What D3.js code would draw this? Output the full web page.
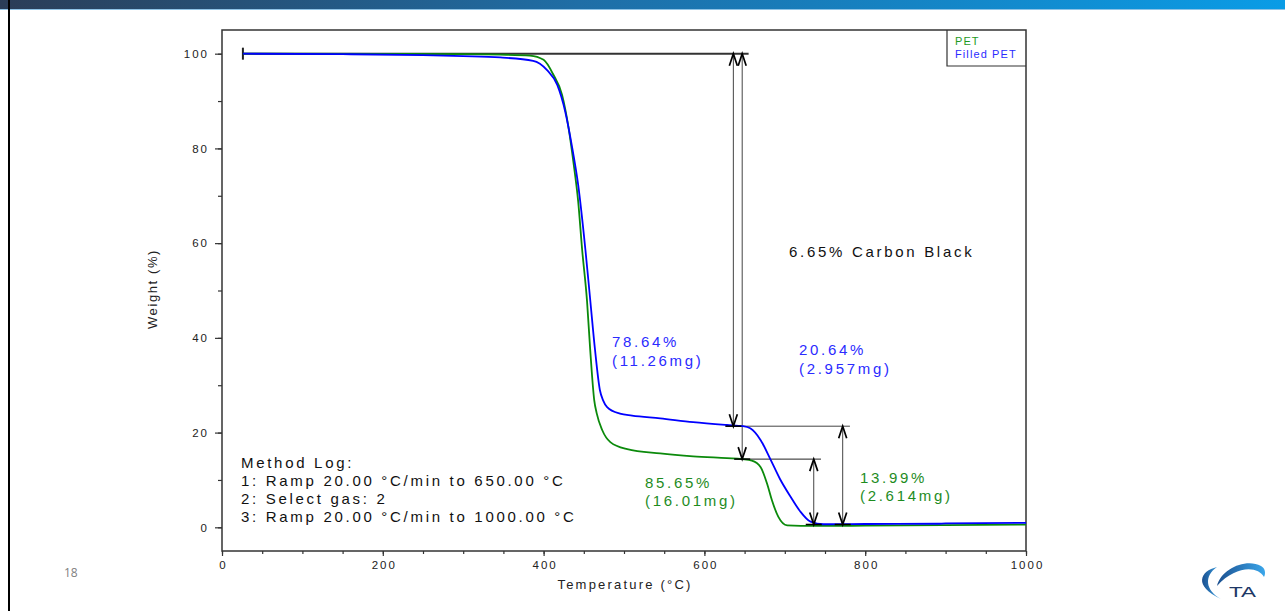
<!DOCTYPE html>
<html>
<head>
<meta charset="utf-8">
<script src="https://cdn.jsdelivr.net/npm/d3@7"></script>
<style>
    body { margin: 0; background: #fff; }
    svg { display: block; }
    .tick text { font-family: Arial, "Liberation Sans", sans-serif; }
</style>
</head>
<body>
<div class="chart-area"></div>
<script>

// PET (green) - weight % vs temperature
const petTemp   = [26, 200, 300, 346, 383, 400, 412, 423, 431, 437, 443, 448, 454, 458, 463, 466, 473, 483, 504, 545, 586, 628, 647, 659, 670, 678, 684, 692, 703, 720, 800, 900, 1000];
const petWeight = [100, 99.95, 99.9, 99.8, 99.6, 98.7, 95.6, 91.3, 84.4, 77.2, 68.8, 58.5, 47.8, 37.4, 26.8, 24.1, 20.5, 18.0, 16.5, 15.6, 15.0, 14.6, 14.4, 14.1, 12.7, 9.2, 5.7, 2.2, 0.4, 0.3, 0.35, 0.45, 0.57];

// Filled PET (blue)
const filledTemp   = [26, 150, 250, 300, 346, 387, 404, 417, 427, 435, 443, 452, 458, 464, 470, 474, 479, 495, 510, 545, 586, 628, 648, 657, 670, 682, 694, 707, 719, 732, 748, 800, 890, 900, 1000];
const filledWeight = [100, 99.9, 99.7, 99.5, 99.2, 98.5, 96.6, 93.4, 87.7, 80.7, 72.3, 58.6, 48.0, 37.4, 29.0, 26.8, 25.4, 24.0, 23.6, 23.0, 22.2, 21.6, 21.35, 20.9, 18.4, 14.4, 10.2, 6.5, 3.4, 1.2, 0.65, 0.7, 0.75, 0.85, 0.95];

// axis ticks
const xTicks = [0, 200, 400, 600, 800, 1000];
const yTicks = [0, 20, 40, 60, 80, 100];

// step analysis: arrow temperature, upper level, lower level
const stepTemp  = [636, 647, 736, 772];
const stepUpper = [100, 100, 14.4, 21.35];
const stepLower = [21.35, 14.4, 0.6, 0.6];

const seriesNames = ["PET", "Filled PET"];
const methodLog = ["Method Log:", "1: Ramp 20.00 \u00b0C/min to 650.00 \u00b0C", "2: Select gas: 2", "3: Ramp 20.00 \u00b0C/min to 1000.00 \u00b0C"];
const blueLabels  = [["78.64%", "(11.26mg)"], ["20.64%", "(2.957mg)"]];
const greenLabels = [["85.65%", "(16.01mg)"], ["13.99%", "(2.614mg)"]];

const GREEN = "#0b8a0b", BLUE = "#0000ff";
const FONT = "Arial, 'Liberation Sans', sans-serif";

let svg = d3.select(".chart-area").append("svg")
    .attr("width", 1285)
    .attr("height", 611);

// slide banner
let defs = svg.append("defs");
let grad = defs.append("linearGradient").attr("id", "banner");
grad.append("stop").attr("offset", "0%").attr("stop-color", "#2b3d57");
grad.append("stop").attr("offset", "45%").attr("stop-color", "#1f6ea6");
grad.append("stop").attr("offset", "100%").attr("stop-color", "#0a9ce6");
svg.append("rect").attr("x", 0).attr("y", 0).attr("width", 1285).attr("height", 9).attr("fill", "url(#banner)");
svg.append("rect").attr("x", 0).attr("y", 9).attr("width", 1285).attr("height", 1).attr("fill", "#8fc3e6");
svg.append("rect").attr("x", 8).attr("y", 0).attr("width", 2).attr("height", 611).attr("fill", "#000");

// scales
let x = d3.scaleLinear().domain([0, 1000]).range([222, 1026]);
let y = d3.scaleLinear().domain([-5, 105]).range([551, 30]);

// minor + major ticks
let gx = svg.append("g").attr("transform", "translate(0,551)");
gx.call(d3.axisBottom(x).tickValues(d3.range(0, 1001, 50)).tickSize(3).tickFormat(""));
let gxMajor = svg.append("g").attr("transform", "translate(0,551)");
gxMajor.call(d3.axisBottom(x).tickValues(xTicks).tickSize(5).tickPadding(5).tickFormat(d3.format("d")));

let gy = svg.append("g").attr("transform", "translate(222,0)");
gy.call(d3.axisLeft(y).tickValues(d3.range(0, 101, 10)).tickSize(4).tickFormat(""));
let gyMajor = svg.append("g").attr("transform", "translate(222,0)");
gyMajor.call(d3.axisLeft(y).tickValues(yTicks).tickSize(7).tickPadding(6).tickFormat(d3.format("d")));

svg.selectAll(".domain").remove();
svg.selectAll(".tick line").attr("stroke", "#333").attr("stroke-width", 1.2);
svg.selectAll(".tick text")
    .attr("font-size", 11.5)
    .attr("letter-spacing", 2)
    .attr("fill", "#222");
gxMajor.selectAll(".tick text").attr("dx", 1);

// frame
svg.append("rect")
    .attr("x", 222).attr("y", 30)
    .attr("width", 1026 - 222).attr("height", 551 - 30)
    .attr("fill", "none").attr("stroke", "#333").attr("stroke-width", 1.5);

// axis titles
svg.append("text")
    .attr("x", 625).attr("y", 589)
    .attr("text-anchor", "middle")
    .attr("font-family", FONT).attr("font-size", 13).attr("letter-spacing", 2.2)
    .attr("fill", "#222")
    .text("Temperature (\u00b0C)");
svg.append("text")
    .attr("transform", "translate(157,289) rotate(-90)")
    .attr("text-anchor", "middle")
    .attr("font-family", FONT).attr("font-size", 13).attr("letter-spacing", 1.6)
    .attr("fill", "#222")
    .text("Weight (%)");

// curves
let line = d3.line()
    .x(d => x(d[0]))
    .y(d => y(d[1]))
    .curve(d3.curveMonotoneX);

let petData = petTemp.map((t, i) => [t, petWeight[i]]);
let filledData = filledTemp.map((t, i) => [t, filledWeight[i]]);

// annotation lines (drawn under the curves)
let ann = svg.append("g");

// top reference line with start tick
ann.append("line")
    .attr("x1", x(petTemp[0])).attr("x2", x(655))
    .attr("y1", y(100)).attr("y2", y(100))
    .attr("stroke", "#333").attr("stroke-width", 2);
ann.append("line")
    .attr("x1", x(petTemp[0])).attr("x2", x(petTemp[0]))
    .attr("y1", y(100) - 6).attr("y2", y(100) + 6)
    .attr("stroke", "#222").attr("stroke-width", 2);

// plateau levels
ann.append("line")
    .attr("x1", x(stepTemp[0])).attr("x2", x(781))
    .attr("y1", y(stepLower[0])).attr("y2", y(stepLower[0]))
    .attr("stroke", "#444").attr("stroke-width", 1);
ann.append("line")
    .attr("x1", x(stepTemp[1])).attr("x2", x(745))
    .attr("y1", y(stepLower[1])).attr("y2", y(stepLower[1]))
    .attr("stroke", "#222").attr("stroke-width", 1);

svg.append("path").datum(petData)
    .attr("d", line)
    .attr("fill", "none").attr("stroke", GREEN).attr("stroke-width", 1.8);
svg.append("path").datum(filledData)
    .attr("d", line)
    .attr("fill", "none").attr("stroke", BLUE).attr("stroke-width", 1.8);

// step arrows
stepTemp.forEach(function (t, i) {
    let xp = x(t), y1 = y(stepUpper[i]), y2 = y(stepLower[i]);
    ann.append("line")
        .attr("x1", xp).attr("x2", xp).attr("y1", y1).attr("y2", y2)
        .attr("stroke", "#444").attr("stroke-width", 1);
    svg.append("path")
        .attr("d", `M${xp - 4},${y1 + 12}L${xp},${y1}L${xp + 4},${y1 + 12}`)
        .attr("fill", "none").attr("stroke", "#000").attr("stroke-width", 1.7);
    svg.append("path")
        .attr("d", `M${xp - 4},${y2 - 12}L${xp},${y2}L${xp + 4},${y2 - 12}`)
        .attr("fill", "none").attr("stroke", "#000").attr("stroke-width", 1.7);
    svg.append("line")
        .attr("x1", xp - 8).attr("x2", xp + 8).attr("y1", y2).attr("y2", y2)
        .attr("stroke", "#000").attr("stroke-width", 1.5);
});

// text annotations
function addLines(lines, px, py, color, step) {
    lines.forEach(function (s, i) {
        svg.append("text")
            .attr("x", px).attr("y", py + i * step)
            .attr("font-family", FONT).attr("font-size", 15).attr("letter-spacing", 2.7)
            .attr("fill", color)
            .text(s);
    });
}
addLines(["6.65% Carbon Black"], 789, 257, "#111", 0);
addLines(blueLabels[0], 612, 347, "#2b2bff", 19);
addLines(blueLabels[1], 799, 355, "#2b2bff", 19);
addLines(greenLabels[0], 645, 488, "#1e8c1e", 18);
addLines(greenLabels[1], 860, 483, "#1e8c1e", 18);
addLines(methodLog, 241, 468, "#111", 18);

// legend
svg.append("path")
    .attr("d", "M947,30V66H1026")
    .attr("fill", "none").attr("stroke", "#333").attr("stroke-width", 1.2);
seriesNames.forEach(function (s, i) {
    svg.append("text")
        .attr("x", 955).attr("y", 45 + i * 13)
        .attr("font-family", FONT).attr("font-size", 11).attr("letter-spacing", 1.1)
        .attr("fill", i === 0 ? "#1e9a1e" : "#2b2bff")
        .text(s);
});

// page number
svg.append("text")
    .attr("x", 64).attr("y", 577)
    .attr("font-family", "'Open Sans', sans-serif").attr("font-size", 12)
    .attr("fill", "#7f7f7f")
    .text("18");

// logo
let lg = defs.append("linearGradient").attr("id", "logo")
    .attr("x1", "0%").attr("x2", "100%").attr("y1", "0%").attr("y2", "0%");
lg.append("stop").attr("offset", "0%").attr("stop-color", "#1b4f8f");
lg.append("stop").attr("offset", "100%").attr("stop-color", "#3aa6ea");
svg.append("path")
    .attr("d", "M1217,567 C1200,571 1193,586 1221,599 C1205,590 1204,576 1217,567 Z")
    .attr("fill", "url(#logo)");
svg.append("path")
    .attr("d", "M1217,586 C1221,569 1246,558 1261,566 C1265,568 1266,573 1264,577 C1258,566 1236,565 1217,586 Z")
    .attr("fill", "url(#logo)");
svg.append("text")
    .attr("transform", "translate(1229,597) scale(1.45,1)")
    .attr("font-family", FONT).attr("font-size", 15.5)
    .attr("fill", "#1d3766")
    .text("TA");

</script>
</body>
</html>
